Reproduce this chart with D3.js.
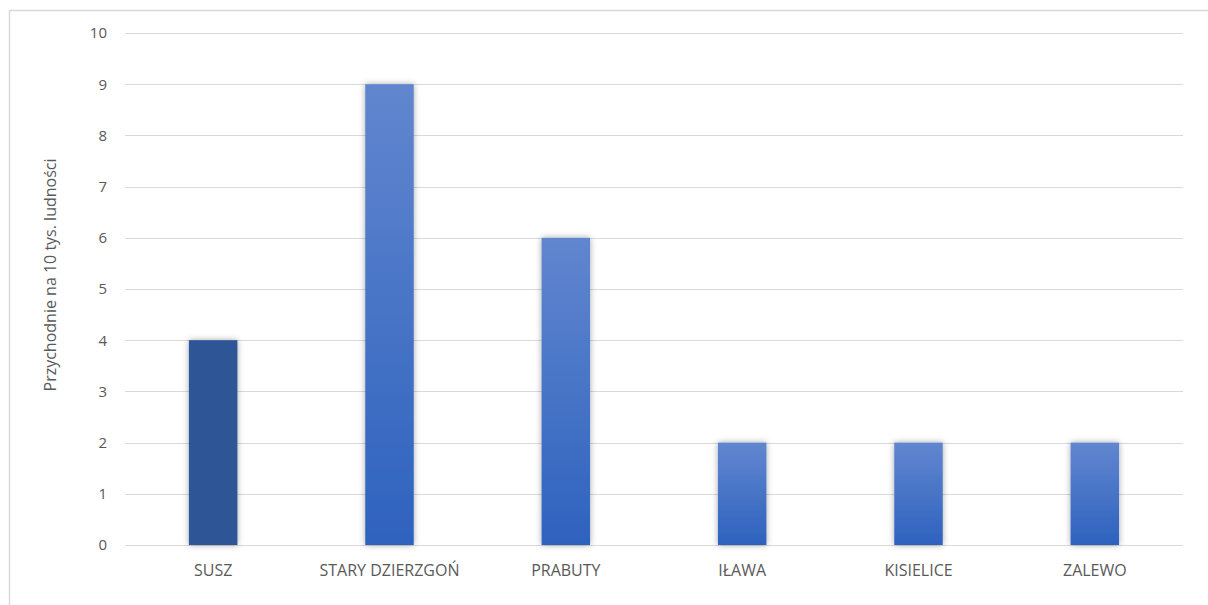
<!DOCTYPE html>
<html>
<head>
<meta charset="utf-8">
<script src="https://cdn.jsdelivr.net/npm/d3@7"></script>
<style>
  body { margin: 0; background: #fff; }
  text { font-family: "Open Sans", "Noto Sans", sans-serif; fill: #595959; }
</style>
</head>
<body>
<div id="chart"></div>
<script>
// data
var categories = ["SUSZ", "STARY DZIERZGOŃ", "PRABUTY", "IŁAWA", "KISIELICE", "ZALEWO"]
var values = [4, 9, 6, 2, 2, 2]
var yTicks = [0, 1, 2, 3, 4, 5, 6, 7, 8, 9, 10]
var highlighted = "SUSZ"

var W = 1208, H = 605
var margin = {top: 33, right: 25, bottom: 60, left: 125}
var width = W - margin.left - margin.right
var height = H - margin.top - margin.bottom

var svg = d3.select("#chart").append("svg")
    .attr("width", W)
    .attr("height", H)

// frame (only top and left edges are in view)
svg.append("path")
    .attr("d", "M9.5," + H + "V10.5H" + W)
    .attr("fill", "none")
    .attr("stroke", "#d9d9d9")
    .attr("stroke-width", 1.5)

var defs = svg.append("defs")
var grad = defs.append("linearGradient").attr("id", "barGrad")
    .attr("x1", 0).attr("y1", 0).attr("x2", 0).attr("y2", 1)
grad.append("stop").attr("offset", "0%").attr("stop-color", "#6186cf")
grad.append("stop").attr("offset", "100%").attr("stop-color", "#2e62be")

var shadow = defs.append("filter").attr("id", "shadow")
    .attr("x", "-30%").attr("y", "-10%").attr("width", "160%").attr("height", "120%")
shadow.append("feDropShadow")
    .attr("dx", 0).attr("dy", 0).attr("stdDeviation", 3)
    .attr("flood-color", "#000").attr("flood-opacity", 0.35)

var g = svg.append("g").attr("transform", "translate(" + margin.left + "," + margin.top + ")")

var x = d3.scaleBand().domain(categories).range([0, width]).paddingInner(0.725).paddingOuter(0.3625)
var y = d3.scaleLinear().domain([0, 10]).range([height, 0])

// gridlines
g.selectAll(".grid").data(yTicks).enter().append("line")
    .attr("x1", 0).attr("x2", width)
    .attr("y1", function(d) { return Math.round(y(d)) + 0.5 })
    .attr("y2", function(d) { return Math.round(y(d)) + 0.5 })
    .attr("stroke", "#d9d9d9")
    .attr("stroke-width", 1.2)

// y axis labels
var yAxis = d3.axisLeft(y).tickValues(yTicks).tickSize(0).tickPadding(18)
var ya = g.append("g").call(yAxis)
ya.select(".domain").remove()
ya.selectAll("text").style("font-size", "15px").attr("fill", "#595959")

// bars
g.selectAll(".bar").data(values).enter().append("rect")
    .attr("x", function(d, i) { return x(categories[i]) })
    .attr("y", function(d) { return y(d) })
    .attr("width", x.bandwidth())
    .attr("height", function(d) { return height - y(d) })
    .attr("fill", function(d, i) { return categories[i] == highlighted ? "#2e5495" : "url(#barGrad)" })
    .attr("filter", "url(#shadow)")

// x axis labels
var xAxis = d3.axisBottom(x).tickSize(0).tickPadding(20)
var xa = g.append("g").attr("transform", "translate(0," + height + ")").call(xAxis)
xa.select(".domain").remove()
xa.selectAll("text").style("font-size", "16px").attr("fill", "#595959")

// y label
svg.append("text")
    .attr("transform", "translate(56,275) rotate(-90)")
    .attr("text-anchor", "middle")
    .style("font-size", "16px")
    .text("Przychodnie na 10 tys. ludności")
</script>
</body>
</html>
